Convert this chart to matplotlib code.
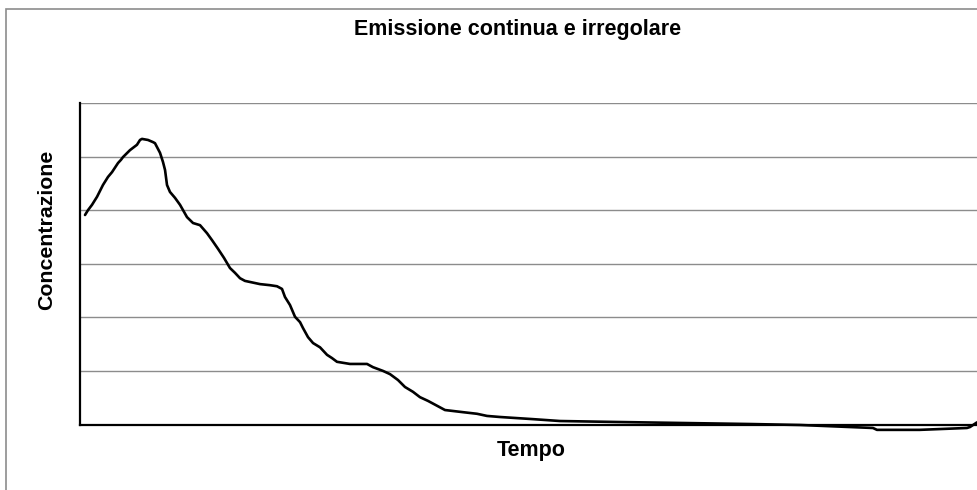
import matplotlib
matplotlib.use("Agg")
import matplotlib.pyplot as plt
from matplotlib.patches import Rectangle

title = "Emissione continua e irregolare"
xlabel = "Tempo"
ylabel = "Concentrazione"

tempo = [0.56, 0.89, 1.34, 1.90, 2.56, 3.12, 3.57, 4.24, 4.57, 4.79, 5.57, 6.35, 6.69, 6.91,
         7.58, 8.14, 8.36, 8.92, 9.25, 9.48, 9.70, 10.03, 10.59, 11.15, 11.93, 12.60, 13.38,
         14.16, 14.72, 15.38, 16.05, 16.72, 17.28, 17.84, 18.39, 18.95, 20.07, 21.18, 21.96,
         22.52, 22.85, 23.41, 23.97, 24.53, 24.86, 25.42, 25.98, 26.76, 27.54, 28.09, 28.65,
         30.10, 32.00, 32.66, 33.78, 34.56, 35.45, 36.23, 37.12, 37.90, 38.80, 39.58, 40.69,
         42.70, 44.26, 45.37, 46.82, 50.50, 53.51, 59.87, 67.22, 74.69, 80.27, 88.40, 88.85,
         93.60, 98.88, 99.22, 100.0]
concentrazione = [39.1, 40.0, 41.0, 42.5, 44.7, 46.2, 47.1, 48.8, 49.4, 49.9, 51.2, 52.2, 53.1, 53.3,
                  53.1, 52.7, 52.5, 50.7, 49.0, 47.5, 44.7, 43.4, 42.3, 41.0, 38.7, 37.6, 37.2,
                  35.7, 34.4, 32.8, 31.1, 29.2, 28.3, 27.3, 26.8, 26.6, 26.2, 26.0, 25.8,
                  25.3, 23.8, 22.3, 20.1, 19.1, 18.0, 16.3, 15.2, 14.4, 13.0, 12.4, 11.7,
                  11.3, 11.3, 10.7, 10.0, 9.4, 8.3, 7.0, 6.1, 5.1, 4.4, 3.7, 2.7,
                  2.3, 2.0, 1.6, 1.4, 1.0, 0.65, 0.47, 0.28, 0.09, -0.09, -0.65, -1.0,
                  -1.0, -0.65, -0.47, 0.4]
grid_levels = [10, 20, 30, 40, 50, 60]

plt.rcParams['font.family'] = ['Liberation Sans', 'DejaVu Sans']

fig = plt.figure(figsize=(9.77, 4.9), dpi=100)
fig.patches.append(Rectangle((6/977, -0.1), 1.2, (490-9)/490 + 0.1, transform=fig.transFigure,
                             fill=False, edgecolor='#8c8c8c', linewidth=1.2))

ax = fig.add_axes([80/977, (490-424.5)/490, 1 - 80/977, (424.5-103)/490])
for g in grid_levels:
    ax.axhline(g, color='#8c8c8c', linewidth=1.0, zorder=1)
ax.plot(tempo, concentrazione, color='black', linewidth=1.9, clip_on=False, zorder=3,
        solid_joinstyle='round', solid_capstyle='round')
ax.set_xlim(0, 100)
ax.set_ylim(0, 60)
ax.set_xticks([])
ax.set_yticks([])
for s in ['top', 'right']:
    ax.spines[s].set_visible(False)
ax.spines['left'].set_linewidth(1.6)
ax.spines['bottom'].set_linewidth(1.6)

fig.text(518/977, 1 - 30/490, title, ha='center', va='center', fontsize=15.5, fontweight='bold')
fig.text(531/977, 1 - 450/490, xlabel, ha='center', va='center', fontsize=15.5, fontweight='bold')
fig.text(47/977, 1 - 230/490, ylabel, ha='center', va='center', fontsize=15.3, fontweight='bold',
         rotation=90)

fig.savefig("out.png", dpi=100)
